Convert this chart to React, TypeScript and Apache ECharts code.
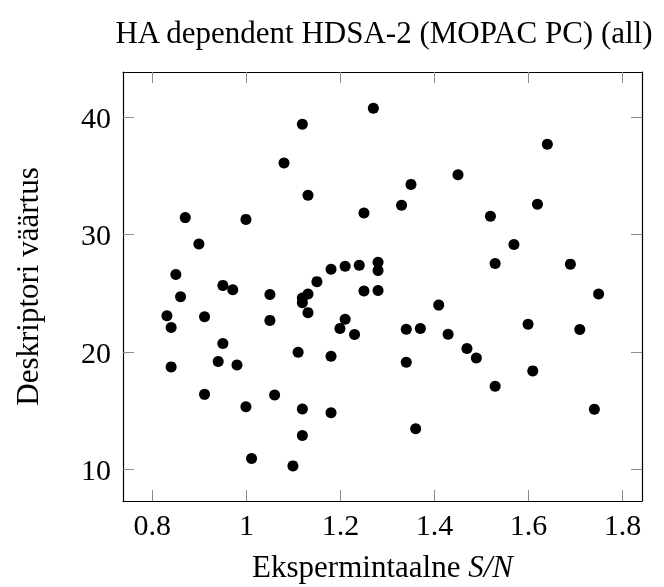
import React, { useEffect, useRef } from "react";
import * as echarts from "echarts";

const xValues = [
  1.27, 1.119, 1.08, 1.131, 0.87, 0.999, 1.25, 0.899, 0.85, 1.18, 1.21, 1.24, 1.28, 1.28, 1.15,
  0.95, 0.971, 1.25, 1.28, 0.86, 1.05, 1.119, 1.131, 1.119, 0.831, 0.84, 0.911, 1.05, 1.131,
  1.21, 1.199, 1.23, 0.95, 1.11, 1.18, 0.84, 0.94, 0.98, 0.911, 1.06, 0.999, 1.119, 1.18, 1.119,
  1.011, 1.099, 1.64, 1.45, 1.35, 1.33, 1.619, 1.519, 1.569, 1.529, 1.689, 1.749, 1.409, 1.34,
  1.37, 1.429, 1.599, 1.709, 1.469, 1.489, 1.34, 1.609, 1.529, 1.74, 1.36,
];
const yValues = [
  40.76, 39.4, 36.1, 33.35, 31.45, 31.3, 31.85, 29.2, 26.6, 27.05, 27.3, 27.4, 27.65, 26.95, 26.0,
  25.68, 25.3, 25.2, 25.25, 24.72, 24.9, 24.6, 24.94, 24.2, 23.1, 22.1, 23.0, 22.7, 23.36,
  22.8, 22.0, 21.5, 20.73, 19.99, 19.65, 18.74, 19.2, 18.9, 16.4, 16.34, 15.35, 15.15, 14.84, 12.89,
  10.93, 10.31, 37.7, 35.1, 34.28, 32.5, 32.58, 31.56, 29.16, 27.55, 27.49, 24.94, 24.0, 21.94,
  22.0, 21.52, 22.37, 21.92, 20.3, 19.5, 19.14, 18.4, 17.1, 15.13, 13.48,
];
const xTicks = [0.8, 1, 1.2, 1.4, 1.6, 1.8];
const yTicks = [10, 20, 30, 40];
const titleText = "HA dependent HDSA-2 (MOPAC PC) (all)";
const xName = "Ekspermintaalne";
const xNameItalic = "S/N";
const yName = "Deskriptori väärtus";

const FONT = "'Liberation Serif', 'DejaVu Serif', serif";

export default function App() {
  const ref = useRef<HTMLDivElement>(null);
  useEffect(() => {
    if (!ref.current) return;
    const chart = echarts.init(ref.current, undefined, { renderer: "svg" });
    const data = xValues.map((x, i) => [x, yValues[i]]);
    const xMin = 0.7376;
    const xMax = 1.8413;
    const yMin = 7.32;
    const yMax = 43.85;
    const tickStyle = { show: true, inside: true, length: 11, lineStyle: { color: "#8c8c8c", width: 1 } };
    chart.setOption({
      animation: false,
      title: {
        text: titleText,
        left: 379,
        top: 12,
        textAlign: "center",
        textStyle: { fontFamily: FONT, fontSize: 31, fontWeight: "normal", color: "#000" },
      },
      grid: { left: 123, top: 72, right: 22, bottom: 85, show: false },
      xAxis: [
        {
          type: "value",
          min: xMin,
          max: xMax,
          position: "bottom",
          axisLine: { show: true, lineStyle: { color: "#000", width: 1.2 } },
          axisTick: { ...tickStyle, customValues: xTicks },
          axisLabel: {
            customValues: xTicks,
            margin: 8,
            fontFamily: FONT,
            fontSize: 30,
            color: "#000",
            formatter: (v: number) => String(Math.round(v * 10) / 10),
          },
          splitLine: { show: false },
          name: `{a|${xName} }{b|${xNameItalic}}`,
          nameLocation: "middle",
          nameGap: 50,
          nameTextStyle: {
            fontFamily: FONT,
            fontSize: 31,
            color: "#000",
            rich: {
              a: { fontFamily: FONT, fontSize: 31, color: "#000" },
              b: { fontFamily: FONT, fontSize: 31, color: "#000", fontStyle: "italic" },
            },
          },
        },
        {
          type: "value",
          min: xMin,
          max: xMax,
          position: "top",
          axisLine: { show: true, lineStyle: { color: "#000", width: 1.2 } },
          axisTick: { ...tickStyle, customValues: xTicks },
          axisLabel: { show: false },
          splitLine: { show: false },
        },
      ],
      yAxis: [
        {
          type: "value",
          min: yMin,
          max: yMax,
          position: "left",
          axisLine: { show: true, lineStyle: { color: "#000", width: 1.2 } },
          axisTick: { ...tickStyle, customValues: yTicks },
          axisLabel: {
            customValues: yTicks,
            margin: 12,
            fontFamily: FONT,
            fontSize: 30,
            color: "#000",
          },
          splitLine: { show: false },
          name: yName,
          nameLocation: "middle",
          nameGap: 80,
          nameTextStyle: { fontFamily: FONT, fontSize: 31, color: "#000" },
        },
        {
          type: "value",
          min: yMin,
          max: yMax,
          position: "right",
          axisLine: { show: true, lineStyle: { color: "#000", width: 1.2 } },
          axisTick: { ...tickStyle, customValues: yTicks },
          axisLabel: { show: false },
          splitLine: { show: false },
        },
      ],
      series: [
        {
          type: "scatter",
          xAxisIndex: 0,
          yAxisIndex: 0,
          data,
          symbol: "circle",
          symbolSize: 11,
          itemStyle: { color: "#000", opacity: 1 },
        },
      ],
    });
    return () => chart.dispose();
  }, []);
  return (
    <div
      ref={ref}
      style={{ position: "fixed", left: 0, top: 0, width: 664, height: 587 }}
    />
  );
}
